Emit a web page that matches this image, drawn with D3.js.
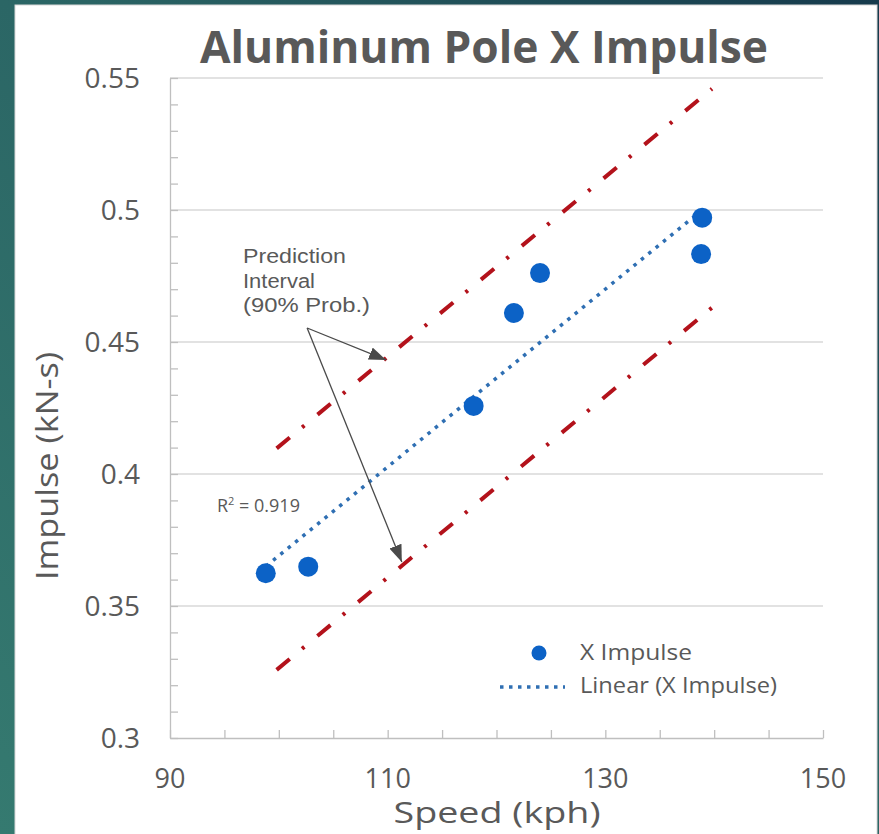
<!DOCTYPE html>
<html>
<head>
<meta charset="utf-8">
<script src="https://cdn.jsdelivr.net/npm/d3@7"></script>
<style>
  html, body { margin: 0; padding: 0; background: #24545c; }
  svg { display: block; }
</style>
</head>
<body>
<svg id="chart"></svg>
<script>
// ****************************************
// Data

var speed   = [98.8, 102.7, 117.9, 121.6, 124.0, 138.9, 138.8];
var impulse = [0.3624, 0.3649, 0.4258, 0.461, 0.4761, 0.4971, 0.4833];

// fitted trend line, as drawn
var trend_x = [98.8, 138.9];
var trend_y = [0.365, 0.500];

// prediction interval lines
var upper_x = [99.8, 139.8];
var upper_y = [0.4097, 0.5459];
var lower_x = [99.8, 139.8];
var lower_y = [0.3258, 0.4630];

var x_tick_labels = [90, 110, 130, 150];
var y_tick_labels = [0.3, 0.35, 0.4, 0.45, 0.5, 0.55];

var r_squared = '0.919';

// annotation arrows: from the label to both interval lines
var arrow_from = [102.6, 0.4553];
var arrow_to = [[109.85, 0.4432], [111.3, 0.3667]];

// ****************************************
// Setup

var width = 879, height = 834;
var plot = { left: 170, right: 823, top: 78, bottom: 738 };
var grey_text = '#595959';

var svg = d3.select('#chart').attr('width', width).attr('height', height);

var defs = svg.append('defs');
var grad = defs.append('linearGradient').attr('id', 'bg').attr('x1', '0%').attr('y1', '100%').attr('x2', '100%').attr('y2', '0%');
grad.append('stop').attr('offset', '0%').attr('stop-color', '#357a70');
grad.append('stop').attr('offset', '55%').attr('stop-color', '#2a6464');
grad.append('stop').attr('offset', '100%').attr('stop-color', '#163a4c');

defs.append('marker').attr('id', 'arrow')
  .attr('markerUnits', 'userSpaceOnUse')
  .attr('markerWidth', 18).attr('markerHeight', 14)
  .attr('refX', 17).attr('refY', 6.5).attr('orient', 'auto')
  .append('path').attr('d', 'M0,0 L17,6.5 L0,13 Z').attr('fill', '#4a4a4a');

svg.append('rect').attr('width', width).attr('height', height).attr('fill', 'url(#bg)');
svg.append('rect').attr('x', 15).attr('y', 5).attr('width', 862).attr('height', 840)
  .attr('fill', '#ffffff').attr('stroke', '#d8d8d8').attr('stroke-width', 1);

var x = d3.scaleLinear().domain([90, 150]).range([plot.left, plot.right]);
var y = d3.scaleLinear().domain([0.3, 0.55]).range([plot.bottom, plot.top]);

// ****************************************
// Gridlines and axes

svg.append('g').selectAll('line').data(y_tick_labels.slice(1)).join('line')
  .attr('x1', plot.left).attr('x2', plot.right)
  .attr('y1', d => y(d)).attr('y2', d => y(d))
  .attr('stroke', '#d9d9d9').attr('stroke-width', 1.3);

var x_axis = svg.append('g').attr('transform', 'translate(0,' + plot.bottom + ')')
  .call(d3.axisBottom(x).tickValues(x.ticks(12)).tickSizeInner(-8).tickSizeOuter(0).tickFormat(''));
var y_axis = svg.append('g').attr('transform', 'translate(' + plot.left + ',0)')
  .call(d3.axisLeft(y).tickValues(y.ticks(25)).tickSizeInner(-8).tickSizeOuter(0).tickFormat(''));
[x_axis, y_axis].forEach(a => {
  a.selectAll('path, line').attr('stroke', '#bfbfbf').attr('stroke-width', 1.3);
});

svg.append('g').selectAll('text').data(y_tick_labels).join('text')
  .attr('x', 140).attr('y', d => y(d)).attr('dy', '0.35em')
  .attr('text-anchor', 'end')
  .style('font-family', 'Open Sans').style('font-size', '28px').attr('fill', grey_text)
  .text(d => d);

svg.append('g').selectAll('text').data(x_tick_labels).join('text')
  .attr('x', d => x(d)).attr('y', 788)
  .attr('text-anchor', 'middle')
  .style('font-family', 'Open Sans').style('font-size', '27px').attr('fill', grey_text)
  .text(d => d);

// ****************************************
// Titles

svg.append('text').attr('x', 484).attr('y', 63).attr('text-anchor', 'middle')
  .attr('textLength', 568).attr('lengthAdjust', 'spacingAndGlyphs')
  .style('font-family', 'Open Sans').style('font-size', '44px').style('font-weight', 'bold')
  .attr('fill', grey_text).text('Aluminum Pole X Impulse');

svg.append('text').attr('x', 497).attr('y', 823).attr('text-anchor', 'middle')
  .attr('textLength', 207).attr('lengthAdjust', 'spacingAndGlyphs')
  .style('font-family', 'Open Sans').style('font-size', '29px')
  .attr('fill', grey_text).text('Speed (kph)');

svg.append('text').attr('transform', 'translate(58,466) rotate(-90)').attr('text-anchor', 'middle')
  .attr('textLength', 228).attr('lengthAdjust', 'spacingAndGlyphs')
  .style('font-family', 'Open Sans').style('font-size', '31px')
  .attr('fill', grey_text).text('Impulse (kN-s)');

// ****************************************
// Interval lines, trend line, points

var line = d3.line().x(d => x(d[0])).y(d => y(d[1]));

[[upper_x, upper_y], [lower_x, lower_y]].forEach(s => {
  svg.append('path').attr('d', line(d3.zip(s[0], s[1])))
    .attr('fill', 'none').attr('stroke', '#b3121b').attr('stroke-width', 4)
    .attr('stroke-dasharray', '17 16 3 17');
});

svg.append('path').attr('d', line(d3.zip(trend_x, trend_y)))
  .attr('fill', 'none').attr('stroke', '#2f6fb3').attr('stroke-width', 3.5)
  .attr('stroke-dasharray', '3.5 6');

svg.append('g').selectAll('circle').data(d3.zip(speed, impulse)).join('circle')
  .attr('cx', d => x(d[0])).attr('cy', d => y(d[1])).attr('r', 10)
  .attr('fill', '#0c62c6');

// ****************************************
// Annotations

arrow_to.forEach(t => {
  svg.append('line')
    .attr('x1', x(arrow_from[0])).attr('y1', y(arrow_from[1]))
    .attr('x2', x(t[0])).attr('y2', y(t[1]))
    .attr('stroke', '#4a4a4a').attr('stroke-width', 1.3)
    .attr('marker-end', 'url(#arrow)');
});

var note_lines = ['Prediction', 'Interval', '(90% Prob.)'];
var note_widths = [103, 72, 127];
svg.append('g').selectAll('text').data(note_lines).join('text')
  .attr('x', 243).attr('y', (d, i) => 263 + i * 24.5)
  .attr('textLength', (d, i) => note_widths[i]).attr('lengthAdjust', 'spacingAndGlyphs')
  .style('font-family', 'Liberation Sans').style('font-size', '20px')
  .attr('fill', grey_text).text(d => d);

var r2 = svg.append('text').attr('x', 217).attr('y', 512)
  .style('font-family', 'Open Sans').style('font-size', '18px').attr('fill', grey_text);
r2.append('tspan').text('R');
r2.append('tspan').attr('dy', -7).style('font-size', '11px').text('2');
r2.append('tspan').attr('dy', 7).text(' = ' + r_squared);

// ****************************************
// Legend

svg.append('circle').attr('cx', 539).attr('cy', 653).attr('r', 7.5).attr('fill', '#0c62c6');
svg.append('line').attr('x1', 500).attr('x2', 565).attr('y1', 687).attr('y2', 687)
  .attr('stroke', '#2f6fb3').attr('stroke-width', 3.5).attr('stroke-dasharray', '3.5 5.5');

svg.append('text').attr('x', 580).attr('y', 660)
  .attr('textLength', 112).attr('lengthAdjust', 'spacingAndGlyphs')
  .style('font-family', 'Open Sans').style('font-size', '21px').attr('fill', grey_text)
  .text('X Impulse');
svg.append('text').attr('x', 580).attr('y', 693)
  .attr('textLength', 197).attr('lengthAdjust', 'spacingAndGlyphs')
  .style('font-family', 'Open Sans').style('font-size', '21px').attr('fill', grey_text)
  .text('Linear (X Impulse)');
</script>
</body>
</html>
